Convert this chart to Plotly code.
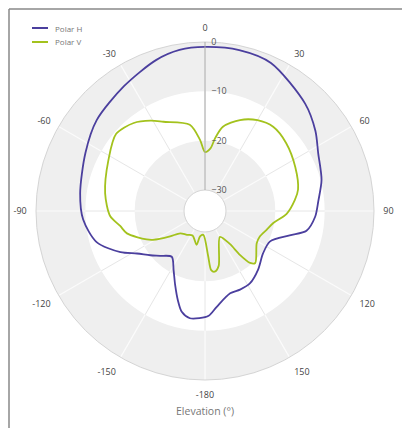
import plotly.graph_objects as go

# Elevation-plane radiation pattern, normalised gain in dB
theta_h = [-177, -172, -167, -163, -158, -152, -144, -135, -129, -122, -116, -106,
           -94, -82, -64, -50, -33, -18, -9, 0, 12, 24, 43, 54, 63, 75, 85, 93,
           101, 106, 115, 126, 138, 148, 156, 163, 173, 178]
gain_h = [-12.5, -12.3, -13.3, -15.4, -18.1, -20.7, -22.8, -21.4, -20.0, -18.0, -15.2, -11.4,
          -9.5, -8.7, -7.3, -5.6, -4.1, -2.1, -1.2, -1.0, -0.9, -1.4, -4.5, -6.6, -8.5, -9.8, -11.2, -11.9,
          -13.3, -16.4, -19.7, -19.7, -18.2, -17.0, -16.8, -16.8, -14.7, -13.0]

theta_v = [-176, -169, -166, -153, -143, -132, -126, -119, -116, -106, -100, -93,
           -80, -62, -49, -39, -31, -25, -10, -4, 0, 5, 8, 12, 21, 30, 39, 50,
           64, 77, 83, 92, 100, 107, 115, 122, 136, 139, 141.5, 143, 150, 166,
           171, 174, 176]
gain_v = [-29.4, -29.0, -27.2, -28.7, -28.2, -27.5, -25.5, -22.2, -21.1, -17.8, -16.8, -15.0,
          -13.7, -12.1, -10.4, -11.3, -12.9, -14.3, -16.5, -19.8, -22.3, -21.5, -19.3, -16.8, -14.5, -13.0, -12.3, -12.8,
          -13.9, -14.9, -15.9, -17.7, -20.2, -21.2, -22.0, -21.9, -19.6, -20.3, -22.9, -25.9, -28.2, -22.8,
          -21.8, -22.2, -25.1]

series_names = ["Polar H", "Polar V"]
series_colors = ["#4b3f9e", "#a3c21d"]

angle_ticks = list(range(0, 360, 30))
angle_labels = ["0", "30", "60", "90", "120", "150", "-180", "-150", "-120", "-90", "-60", "-30"]
radial_ticks = [-30, -20, -10, 0]
radial_range = [-30, 0]
band_edges = [(-10, 0), (-30, -20)]

W, H = 402, 428
cx, cy, R = 205, 211, 169

fig = go.Figure()

# shaded rings
for lo, hi in band_edges:
    fig.add_trace(go.Barpolar(
        theta=[a + 15 for a in angle_ticks], r=[hi - lo] * len(angle_ticks), base=[lo] * len(angle_ticks),
        width=[30] * len(angle_ticks), marker=dict(color="#efefef", line=dict(width=0)),
        hoverinfo="skip", showlegend=False))

# spokes drawn over the shaded rings
sp_t, sp_r = [], []
for a in angle_ticks[1:]:
    for lo, hi in band_edges:
        sp_t += [a, a, None]
        sp_r += [lo, hi, None]
fig.add_trace(go.Scatterpolar(theta=sp_t, r=sp_r, mode="lines",
                              line=dict(color="#fbfbfb", width=1.2),
                              hoverinfo="skip", showlegend=False))

for name, th, g, col in [(series_names[0], theta_h, gain_h, series_colors[0]),
                         (series_names[1], theta_v, gain_v, series_colors[1])]:
    fig.add_trace(go.Scatterpolar(
        theta=th + th[:1], r=g + g[:1], mode="lines", name=name,
        line=dict(color=col, width=1.8, shape="spline", smoothing=0.8),
        showlegend=False))

fig.update_layout(
    width=W, height=H,
    margin=dict(l=0, r=0, t=0, b=0),
    paper_bgcolor="white",
    font=dict(family="Open Sans, sans-serif"),
    polar=dict(
        domain=dict(x=[(cx - R) / W, (cx + R) / W], y=[1 - (cy + R) / H, 1 - (cy - R) / H]),
        bgcolor="white",
        hole=21 / R,
        barmode="overlay",
        angularaxis=dict(direction="clockwise", rotation=90, tickmode="array",
                         tickvals=angle_ticks, ticktext=angle_labels,
                         showline=True, linecolor="#d4d4d4", linewidth=1,
                         showgrid=True, gridcolor="#e6e6e6",
                         ticks="outside", ticklen=7, tickcolor="rgba(0,0,0,0)",
                         tickfont=dict(size=9, color="#444444")),
        radialaxis=dict(range=radial_range, tickmode="array", tickvals=radial_ticks,
                        angle=90, tickangle=90, showline=True, linecolor="#aaaaaa", linewidth=1,
                        showgrid=False, ticks="outside", ticklen=4, tickcolor="rgba(0,0,0,0)",
                        tickfont=dict(size=9, color="#555555")),
    ),
)

# legend
for i, (name, col) in enumerate(zip(series_names, series_colors)):
    y = 1 - (28 + 14 * i) / H
    fig.add_shape(type="line", xref="paper", yref="paper",
                  x0=32 / W, x1=48 / W, y0=y, y1=y, line=dict(color=col, width=2))
    fig.add_annotation(xref="paper", yref="paper", x=53 / W, y=y, text=name,
                       showarrow=False, xanchor="left", yanchor="middle",
                       font=dict(size=8, color="#777777"))

fig.add_annotation(xref="paper", yref="paper", x=cx / W, y=1 - 411 / H,
                   text="Elevation (°)", showarrow=False, xanchor="center", yanchor="middle",
                   font=dict(size=10.5, color="#777777"))

# frame (top and left edges)
fig.add_shape(type="line", xref="paper", yref="paper", x0=9 / W, x1=1, y0=1 - 9 / H, y1=1 - 9 / H,
              line=dict(color="#888888", width=1.5))
fig.add_shape(type="line", xref="paper", yref="paper", x0=9 / W, x1=9 / W, y0=0, y1=1 - 9 / H,
              line=dict(color="#888888", width=1.5))

fig.write_html("out.html")
